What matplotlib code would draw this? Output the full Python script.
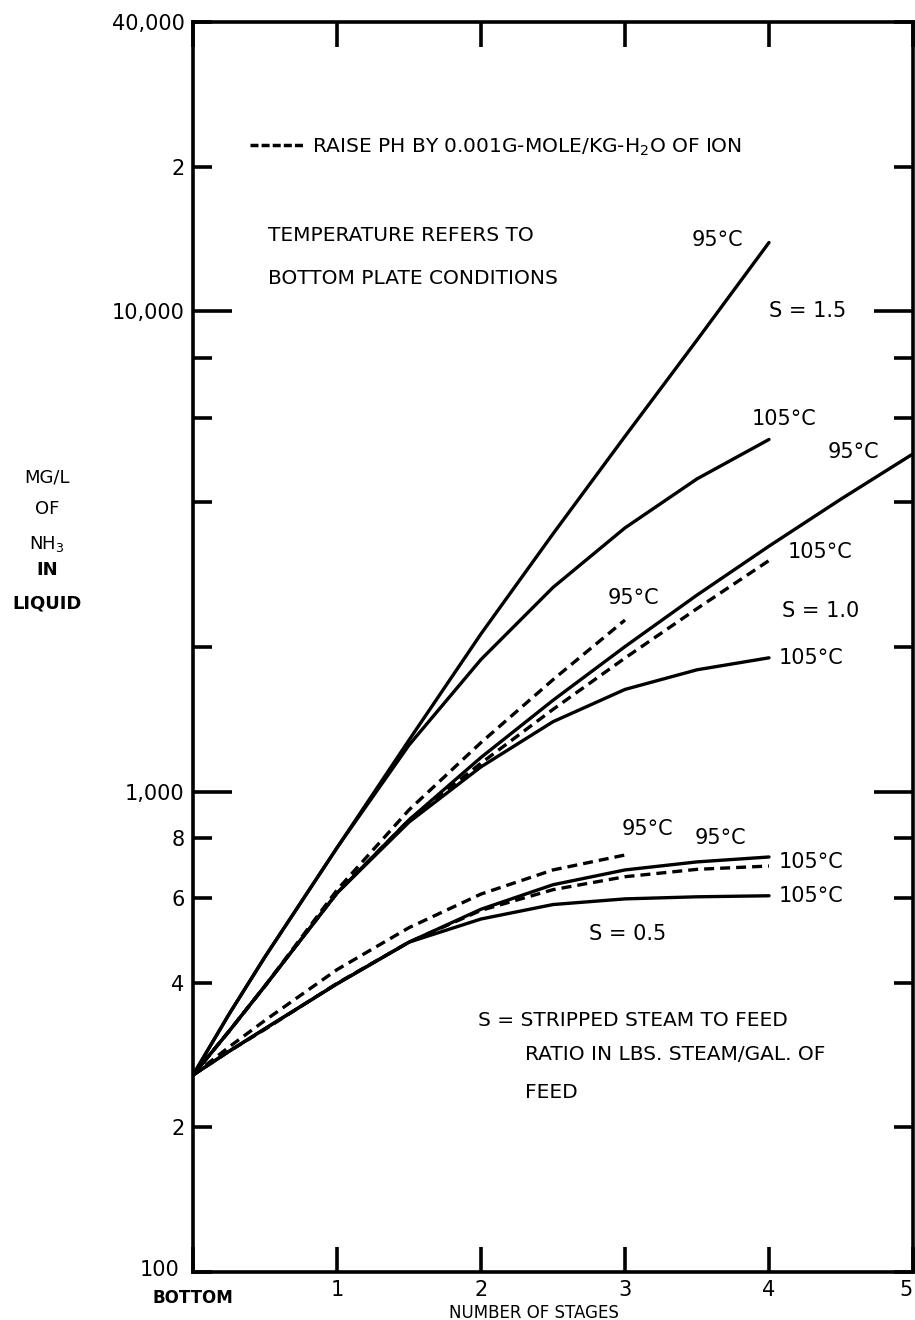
# NH3 in liquid vs number of stages (stripper), log scale
import matplotlib
matplotlib.use("Agg")
import matplotlib.pyplot as plt
from matplotlib.lines import Line2D
from matplotlib.transforms import ScaledTranslation

plt.rcParams["font.family"] = ["DejaVu Sans"]

# ---------- Data ----------
stages     = [0, 0.25, 0.5, 1, 1.5, 2, 2.5, 3, 3.5, 4]
stages_ext = [0, 0.25, 0.5, 1, 1.5, 2, 2.5, 3, 3.5, 4, 4.5, 5]
stages_3   = [0, 0.25, 0.5, 1, 1.5, 2, 2.5, 3]

# S = 1.5
s15_95  = [257, 344, 453, 764, 1280, 2130, 3440, 5490, 8710, 13900]
s15_105 = [257, 344, 453, 764, 1250, 1884, 2661, 3540, 4477, 5408]
# S = 1.0
s10_95     = [257, 317, 394, 615, 873, 1178, 1549, 2004, 2565, 3243, 4064, 5047]
s10_105    = [257, 317, 394, 615, 864, 1126, 1398, 1632, 1793, 1899]
s10_95_ph  = [257, 317, 394, 624, 916, 1265, 1710, 2276]
s10_105_ph = [257, 317, 394, 615, 873, 1146, 1483, 1897, 2404, 3027]
# S = 0.5
s05_95     = [257, 288, 321, 398, 486, 569, 640, 687, 714, 731]
s05_105    = [257, 288, 321, 398, 486, 543, 582, 598, 604, 607]
s05_95_ph  = [257, 294, 334, 426, 521, 612, 687, 738]
s05_105_ph = [257, 288, 320, 399, 486, 566, 625, 665, 689, 700]

x_ticks  = [0, 1, 2, 3, 4, 5]
x_labels = ["BOTTOM", "1", "2", "3", "4", "5"]
y_major  = [1000, 10000]
y_major_labels = ["1,000", "10,000"]
y_minor  = [100, 200, 400, 600, 800, 2000, 4000, 6000, 8000, 20000, 40000]
y_minor_labels = ["100", "2", "4", "6", "8", "", "", "", "", "2", "40,000"]

# (x, y, dashed?, label, label offset [pt], ha)
curves = [
    (stages,     s15_95,     False, "95°C",  (-37, 2),  "center"),
    (stages,     s15_105,    False, "105°C", (11, 15),  "center"),
    (stages_ext, s10_95,     False, "95°C",  (-43, 1),  "center"),
    (stages,     s10_105,    False, "105°C", (7, 0),    "left"),
    (stages_3,   s10_95_ph,  True,  "95°C",  (6, 16),   "center"),
    (stages,     s10_105_ph, True,  "105°C", (37, 6),   "center"),
    (stages,     s05_95,     False, "95°C",  (-35, 14), "center"),
    (stages,     s05_105,    False, "105°C", (7, 0),    "left"),
    (stages_3,   s05_95_ph,  True,  "95°C",  (16, 19),  "center"),
    (stages,     s05_105_ph, True,  "105°C", (7, 3),    "left"),
]

DASH = (0, (3.0, 1.8))
LW = 2.4
NOTE = 14.5

# ---------- Plot ----------
fig = plt.figure(figsize=(9.15, 13.2), dpi=100)
ax = fig.add_axes([193 / 915, 48 / 1320, 720 / 915, 1250 / 1320])
ax.set_yscale("log")

for x, y, dashed, lab, off, ha in curves:
    ax.plot(x, y, color="k", lw=LW, ls=DASH if dashed else "-",
            solid_capstyle="round", solid_joinstyle="round")
    ax.annotate(lab, xy=(x[-1], y[-1]), xytext=off, textcoords="offset points",
                ha=ha, va="center", fontsize=15)

# S labels
ax.text(4.27, 10000, "S = 1.5", ha="center", va="center", fontsize=15)
ax.text(4.36, 2380, "S = 1.0", ha="center", va="center", fontsize=15)
ax.text(3.02, 505, "S = 0.5", ha="center", va="center", fontsize=15)

# notes
ax.text(0.104, 0.829, "TEMPERATURE REFERS TO", transform=ax.transAxes,
        ha="left", va="center", fontsize=NOTE)
ax.text(0.104, 0.795, "BOTTOM PLATE CONDITIONS", transform=ax.transAxes,
        ha="left", va="center", fontsize=NOTE)
ax.text(0.396, 0.201, "S = STRIPPED STEAM TO FEED", transform=ax.transAxes,
        ha="left", va="center", fontsize=NOTE)
ax.text(0.461, 0.174, "RATIO IN LBS. STEAM/GAL. OF", transform=ax.transAxes,
        ha="left", va="center", fontsize=NOTE)
ax.text(0.461, 0.144, "FEED", transform=ax.transAxes,
        ha="left", va="center", fontsize=NOTE)

# dashed-line key
key = Line2D([], [], color="k", lw=2.5, ls=(0, (2.3, 0.9)))
ax.legend([key], ["RAISE PH BY 0.001G-MOLE/KG-H$_2$O OF ION"],
          loc="center left", bbox_to_anchor=(0.079, 0.90), frameon=False,
          fontsize=NOTE, handlelength=2.7, handletextpad=0.4,
          borderpad=0, borderaxespad=0)

# axes / ticks
ax.set_xlim(0, 5)
ax.set_ylim(100, 40000)
ax.set_xticks(x_ticks)
ax.set_xticklabels(x_labels)
ax.set_yticks(y_major)
ax.set_yticklabels(y_major_labels)
ax.set_yticks(y_minor, minor=True)
ax.set_yticklabels(y_minor_labels, minor=True)

ax.tick_params(axis="y", which="major", direction="in", length=28, width=2.6,
               left=True, right=True, labelsize=15, pad=6)
ax.tick_params(axis="y", which="minor", direction="in", length=14, width=2.6,
               left=True, right=True, labelsize=15, pad=6)
ax.tick_params(axis="x", direction="in", length=18, width=2.6,
               top=True, bottom=True, labelsize=15, pad=6)

xl = ax.get_xticklabels()
xl[0].set_fontweight("bold")
xl[0].set_fontsize(12)
xl[0].set_transform(xl[0].get_transform()
                    + ScaledTranslation(0, -6 / 72, fig.dpi_scale_trans))
xl[-1].set_horizontalalignment("right")
yl = ax.get_yticklabels(minor=True)
yl[0].set_transform(yl[0].get_transform()
                    + ScaledTranslation(-4 / 72, 3 / 72, fig.dpi_scale_trans))

for sp in ax.spines.values():
    sp.set_linewidth(2.6)

ax.set_xlabel("NUMBER OF STAGES", fontsize=12)
ax.xaxis.set_label_coords(0.474, -0.0255)

# y label, stacked lines
for txt, py, w in [("MG/L", 478, "normal"), ("OF", 509, "normal"),
                   ("NH$_3$", 544, "normal"), ("IN", 570, "bold"),
                   ("LIQUID", 604, "bold")]:
    fig.text(47 / 915, 1 - py / 1320, txt, ha="center", va="center",
             fontsize=13, fontweight=w)

fig.savefig("out.png", dpi=100)
print("wrote: out.png")
